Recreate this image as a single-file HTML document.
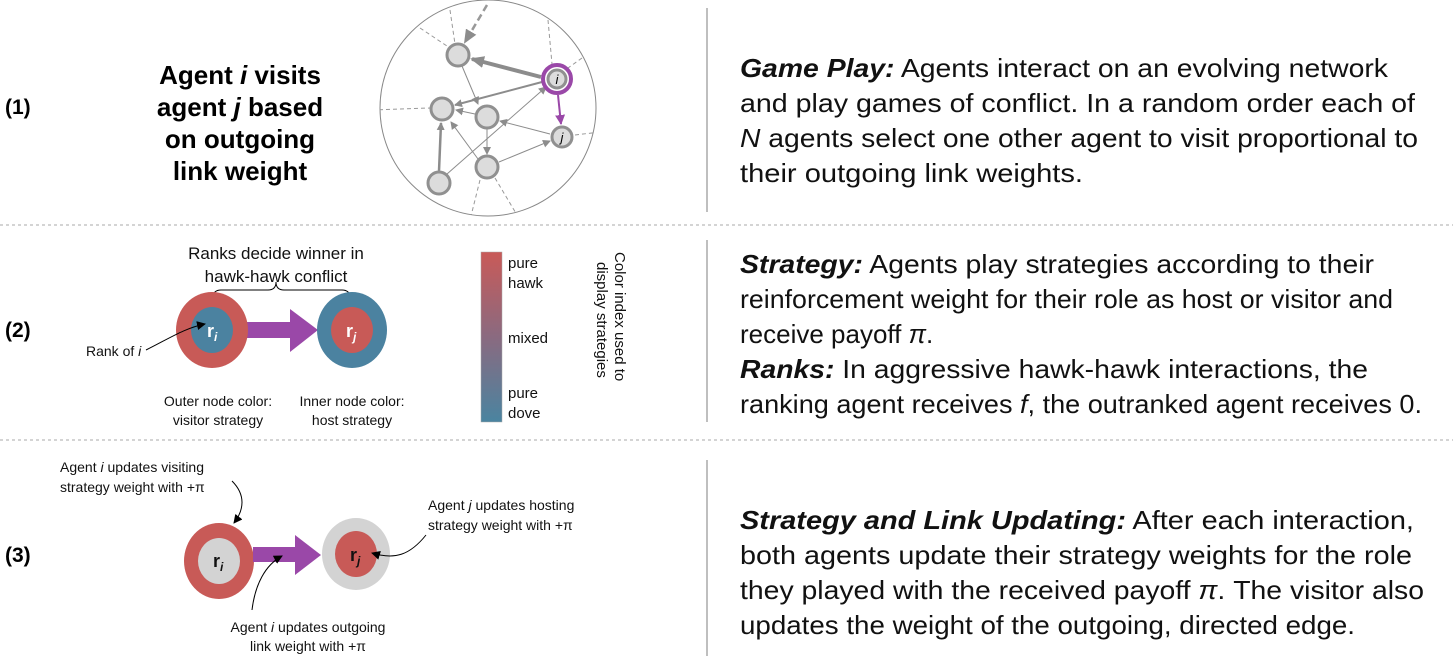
<!DOCTYPE html>
<html><head><meta charset="utf-8"><style>
html,body{margin:0;padding:0;background:#fff}
svg{display:block;font-family:"Liberation Sans",Arial,sans-serif}
</style></head><body>
<svg width="1453" height="661" viewBox="0 0 1453 661" xmlns="http://www.w3.org/2000/svg">
<defs>
<marker id="ag" markerWidth="8" markerHeight="8" refX="7" refY="4" orient="auto" markerUnits="userSpaceOnUse"><path d="M0,0 L8,4 L0,8z" fill="#8c8c8c"/></marker>
<marker id="agb" markerWidth="14" markerHeight="12" refX="12" refY="6" orient="auto" markerUnits="userSpaceOnUse"><path d="M0,0 L14,6 L0,12z" fill="#8c8c8c"/></marker>
<marker id="ap" markerWidth="10" markerHeight="10" refX="9" refY="5" orient="auto" markerUnits="userSpaceOnUse"><path d="M0,0 L10,5 L0,10z" fill="#9a48a8"/></marker>
<marker id="ak" markerWidth="9" markerHeight="9" refX="8" refY="4.5" orient="auto" markerUnits="userSpaceOnUse"><path d="M0,0 L9,4.5 L0,9z" fill="#000"/></marker>
<linearGradient id="cb" x1="0" y1="0" x2="0" y2="1"><stop offset="0" stop-color="#c95a58"/><stop offset="0.5" stop-color="#8a6a80"/><stop offset="1" stop-color="#4a84a0"/></linearGradient>
<clipPath id="cc"><circle cx="488" cy="108" r="108"/></clipPath>
</defs>

<line x1="707" y1="8" x2="707" y2="212" stroke="#aaa" stroke-width="1.5"/>
<line x1="707" y1="240" x2="707" y2="422" stroke="#aaa" stroke-width="1.5"/>
<line x1="707" y1="460" x2="707" y2="656" stroke="#aaa" stroke-width="1.5"/>
<line x1="0" y1="225" x2="1453" y2="225" stroke="#aaa" stroke-width="1" stroke-dasharray="3,3"/>
<line x1="0" y1="440" x2="1453" y2="440" stroke="#aaa" stroke-width="1" stroke-dasharray="3,3"/>

<g font-weight="bold" font-size="21" fill="#000">
<text x="5" y="114">(1)</text>
<text x="5" y="337">(2)</text>
<text x="5" y="562">(3)</text>
</g>
<g font-weight="bold" font-size="26" fill="#000" text-anchor="middle">
<text x="240" y="84">Agent <tspan font-style="italic">i</tspan> visits</text>
<text x="240" y="116">agent <tspan font-style="italic">j</tspan> based</text>
<text x="240" y="148">on outgoing</text>
<text x="240" y="180">link weight</text>
</g>

<circle cx="488" cy="108" r="108" fill="none" stroke="#888" stroke-width="1"/>
<g clip-path="url(#cc)" stroke="#999" stroke-width="1" stroke-dasharray="4,3" fill="none">
<line x1="450" y1="10" x2="455" y2="44"/>
<line x1="420" y1="28" x2="447" y2="46"/>
<line x1="372" y1="110" x2="430" y2="108"/>
<line x1="548" y1="20" x2="552" y2="64"/>
<line x1="582" y1="58" x2="568" y2="68"/>
<line x1="575" y1="135" x2="600" y2="132"/>
<line x1="480" y1="180" x2="470" y2="220"/>
<line x1="495" y1="178" x2="520" y2="220"/>
</g>
<line x1="487" y1="5" x2="465" y2="42" stroke="#999" stroke-width="2.5" stroke-dasharray="7,4" marker-end="url(#agb)"/>
<g stroke="#8c8c8c" fill="none">
<line x1="541" y1="77" x2="472" y2="59" stroke-width="4" marker-end="url(#agb)"/>
<line x1="542" y1="82" x2="455" y2="105" stroke-width="2" marker-end="url(#ag)"/>
<line x1="462" y1="66" x2="478" y2="104" stroke-width="1" marker-end="url(#ag)"/>
<line x1="475" y1="114" x2="456" y2="110" stroke-width="1" marker-end="url(#ag)"/>
<line x1="550" y1="134" x2="500" y2="121" stroke-width="1" marker-end="url(#ag)"/>
<line x1="487" y1="129" x2="487" y2="154" stroke-width="1" marker-end="url(#ag)"/>
<line x1="499" y1="162" x2="550" y2="141" stroke-width="1" marker-end="url(#ag)"/>
<line x1="439" y1="171" x2="441" y2="123" stroke-width="2.5" marker-end="url(#ag)"/>
<line x1="478" y1="159" x2="451" y2="122" stroke-width="1" marker-end="url(#ag)"/>
<line x1="447" y1="174" x2="546" y2="87" stroke-width="1" marker-end="url(#ag)"/>
</g>
<line x1="558" y1="95" x2="561" y2="124" stroke="#9a48a8" stroke-width="2" marker-end="url(#ap)"/>
<g fill="#dcdcdc" stroke="#909090" stroke-width="3">
<circle cx="458" cy="55" r="11"/>
<circle cx="442" cy="109" r="11"/>
<circle cx="487" cy="117" r="11"/>
<circle cx="562" cy="137" r="10"/>
<circle cx="487" cy="167" r="11"/>
<circle cx="439" cy="183" r="11"/>
<circle cx="557" cy="79" r="9"/>
</g>
<circle cx="557" cy="79" r="14" fill="none" stroke="#9a48a8" stroke-width="4"/>
<text x="557" y="84" font-size="13" font-style="italic" text-anchor="middle">i</text>
<text x="562" y="142" font-size="13" font-style="italic" text-anchor="middle">j</text>

<!-- section 2 -->
<text x="276" y="259" font-size="17" text-anchor="middle" fill="#111">Ranks decide winner in</text>
<text x="276" y="282" font-size="17" text-anchor="middle" fill="#111">hawk-hawk conflict</text>
<path d="M213,298 q0,-8 8,-8 h47 q8,0 8,-8 q0,8 8,8 h58 q8,0 8,8" fill="none" stroke="#000" stroke-width="1"/>
<rect x="246" y="322" width="50" height="16" fill="#9a48a8"/>
<path d="M290,309 L318,330 L290,352z" fill="#9a48a8"/>
<ellipse cx="212" cy="330" rx="36" ry="38" fill="#c85a57"/>
<ellipse cx="212" cy="330" rx="21" ry="23" fill="#4b82a0"/>
<ellipse cx="352" cy="330" rx="35" ry="38" fill="#4b82a0"/>
<ellipse cx="352" cy="330" rx="21" ry="23" fill="#c85a57"/>
<text x="207" y="337" font-size="18" font-weight="bold" fill="#fff">r<tspan font-size="12" font-style="italic" dy="4">i</tspan></text>
<text x="346" y="337" font-size="18" font-weight="bold" fill="#fff">r<tspan font-size="12" font-style="italic" dy="4">j</tspan></text>
<text x="86" y="356" font-size="14" fill="#111">Rank of <tspan font-style="italic">i</tspan></text>
<path d="M146,350 C170,338 185,328 205,324" fill="none" stroke="#000" stroke-width="1" marker-end="url(#ak)"/>
<text x="218" y="406" font-size="14" text-anchor="middle" fill="#111">Outer node color:</text>
<text x="218" y="425" font-size="14" text-anchor="middle" fill="#111">visitor strategy</text>
<text x="352" y="406" font-size="14" text-anchor="middle" fill="#111">Inner node color:</text>
<text x="352" y="425" font-size="14" text-anchor="middle" fill="#111">host strategy</text>
<rect x="481" y="252" width="21" height="170" fill="url(#cb)" stroke="#aaa" stroke-width="0.5"/>
<g font-size="15" fill="#111">
<text x="508" y="268">pure</text><text x="508" y="288">hawk</text>
<text x="508" y="343">mixed</text>
<text x="508" y="398">pure</text><text x="508" y="418">dove</text>
</g>
<text transform="translate(615,252) rotate(90)" font-size="15" fill="#111">Color index used to</text>
<text transform="translate(597,262) rotate(90)" font-size="15" fill="#111">display strategies</text>

<!-- section 3 -->
<ellipse cx="219" cy="561" rx="35" ry="38" fill="#c85a57"/>
<ellipse cx="219" cy="561" rx="21" ry="23" fill="#d3d3d3"/>
<ellipse cx="356" cy="554" rx="34" ry="36" fill="#d3d3d3"/>
<ellipse cx="356" cy="554" rx="21" ry="23" fill="#c85a57"/>
<rect x="253" y="547" width="45" height="15" fill="#9a48a8"/>
<path d="M295,535 L321,555 L295,575z" fill="#9a48a8"/>
<text x="213" y="567" font-size="18" font-weight="bold" fill="#111">r<tspan font-size="12" font-style="italic" dy="4">i</tspan></text>
<text x="350" y="561" font-size="18" font-weight="bold" fill="#111">r<tspan font-size="12" font-style="italic" dy="4">j</tspan></text>
<g font-size="14" fill="#111">
<text x="60" y="472">Agent <tspan font-style="italic">i</tspan> updates visiting</text>
<text x="60" y="492">strategy weight with +π</text>
<text x="428" y="510">Agent <tspan font-style="italic">j</tspan> updates hosting</text>
<text x="428" y="530">strategy weight with +π</text>
<text x="308" y="632" text-anchor="middle">Agent <tspan font-style="italic">i</tspan> updates outgoing</text>
<text x="308" y="651" text-anchor="middle">link weight with +π</text>
</g>
<g fill="none" stroke="#000" stroke-width="1">
<path d="M232,481 C246,495 244,510 234,523" marker-end="url(#ak)"/>
<path d="M426,535 C410,555 395,560 372,553" marker-end="url(#ak)"/>
<path d="M252,610 C255,585 265,565 282,556" marker-end="url(#ak)"/>
</g>

<!-- right text -->
<g font-size="26" fill="#111">
<text x="740" y="77" textLength="648" lengthAdjust="spacingAndGlyphs"><tspan font-weight="bold" font-style="italic">Game Play:</tspan> Agents interact on an evolving network</text>
<text x="740" y="112" textLength="675" lengthAdjust="spacingAndGlyphs">and play games of conflict. In a random order each of</text>
<text x="740" y="147" textLength="678" lengthAdjust="spacingAndGlyphs"><tspan font-style="italic">N</tspan> agents select one other agent to visit proportional to</text>
<text x="740" y="182" textLength="343" lengthAdjust="spacingAndGlyphs">their outgoing link weights.</text>

<text x="740" y="273" textLength="634" lengthAdjust="spacingAndGlyphs"><tspan font-weight="bold" font-style="italic">Strategy:</tspan> Agents play strategies according to their</text>
<text x="740" y="308" textLength="653" lengthAdjust="spacingAndGlyphs">reinforcement weight for their role as host or visitor and</text>
<text x="740" y="343">receive payoff <tspan font-style="italic">π</tspan>.</text>
<text x="740" y="378" textLength="628" lengthAdjust="spacingAndGlyphs"><tspan font-weight="bold" font-style="italic">Ranks:</tspan> In aggressive hawk-hawk interactions, the</text>
<text x="740" y="413" textLength="682" lengthAdjust="spacingAndGlyphs">ranking agent receives <tspan font-style="italic">f</tspan>, the outranked agent receives 0.</text>

<text x="740" y="529" textLength="674" lengthAdjust="spacingAndGlyphs"><tspan font-weight="bold" font-style="italic">Strategy and Link Updating:</tspan> After each interaction,</text>
<text x="740" y="564" textLength="672" lengthAdjust="spacingAndGlyphs">both agents update their strategy weights for the role</text>
<text x="740" y="599" textLength="684" lengthAdjust="spacingAndGlyphs">they played with the received payoff <tspan font-style="italic">π</tspan>. The visitor also</text>
<text x="740" y="634" textLength="615" lengthAdjust="spacingAndGlyphs">updates the weight of the outgoing, directed edge.</text>
</g>
</svg>
</body></html>
